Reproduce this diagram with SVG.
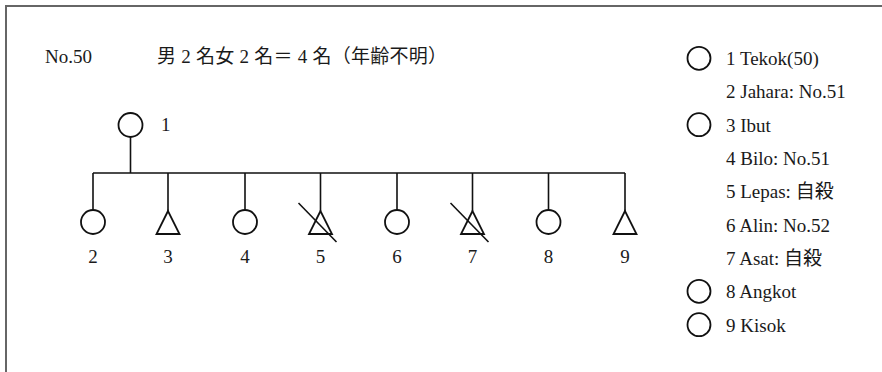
<svg xmlns="http://www.w3.org/2000/svg" width="882" height="372" viewBox="0 0 882 372">
<style>
text{font-family:"Liberation Serif","Noto Sans CJK JP",serif;font-size:19px;fill:#1a1a1a}
.m{text-anchor:middle}
.s{fill:none;stroke:#111;stroke-width:1.8}
.l{fill:none;stroke:#111;stroke-width:1.6}
</style>
<rect width="882" height="372" fill="#fff"/>
<path d="M6,372 V6 H882" fill="none" stroke="#666" stroke-width="2"/>
<text x="45" y="63">No.50</text>
<text x="157" y="63" textLength="290" lengthAdjust="spacing">男 2 名女 2 名＝ 4 名（年齢不明）</text>
<g id="connectors">
<path class="l" d="M130.5,137 V173 M93,173 H625 M93,173 V210 M168,173 V211 M245,173 V210 M320.5,173 V211 M397,173 V210 M472.5,173 V211 M548.5,173 V210 M625,173 V211"/>
</g>
<g id="n1"><circle class="s" cx="130.5" cy="125" r="12"/><text x="161" y="131">1</text></g>
<g id="n2"><circle class="s" cx="93" cy="222" r="12"/><text class="m" x="93" y="263">2</text></g>
<g id="n3"><path class="s" d="M168,211 L156.5,234 H179.5 Z"/><text class="m" x="168" y="263">3</text></g>
<g id="n4"><circle class="s" cx="245" cy="222" r="12"/><text class="m" x="245" y="263">4</text></g>
<g id="n5"><path class="s" d="M320.5,211 L309,234 H332 Z"/><path class="l" d="M298.5,203 L336.5,242"/><text class="m" x="320.5" y="263">5</text></g>
<g id="n6"><circle class="s" cx="397" cy="222" r="12"/><text class="m" x="397" y="263">6</text></g>
<g id="n7"><path class="s" d="M472.5,211 L461,234 H484 Z"/><path class="l" d="M450.5,203 L488.5,242"/><text class="m" x="472.5" y="263">7</text></g>
<g id="n8"><circle class="s" cx="548.5" cy="222" r="12"/><text class="m" x="548.5" y="263">8</text></g>
<g id="n9"><path class="s" d="M625,211 L613.5,234 H636.5 Z"/><text class="m" x="625" y="263">9</text></g>
<g id="legend">
<circle class="s" cx="699" cy="58.3" r="11.5"/>
<circle class="s" cx="699" cy="124.7" r="11.5"/>
<circle class="s" cx="699" cy="291.3" r="11.5"/>
<circle class="s" cx="699" cy="324.7" r="11.5"/>
<text x="726" y="65">1 Tekok(50)</text>
<text x="726" y="98.3">2 Jahara: No.51</text>
<text x="726" y="131.7">3 Ibut</text>
<text x="726" y="165">4 Bilo: No.51</text>
<text x="726" y="198.3">5 Lepas: 自殺</text>
<text x="726" y="231.7">6 Alin: No.52</text>
<text x="726" y="265">7 Asat: 自殺</text>
<text x="726" y="298.3">8 Angkot</text>
<text x="726" y="331.7">9 Kisok</text>
</g>
</svg>
